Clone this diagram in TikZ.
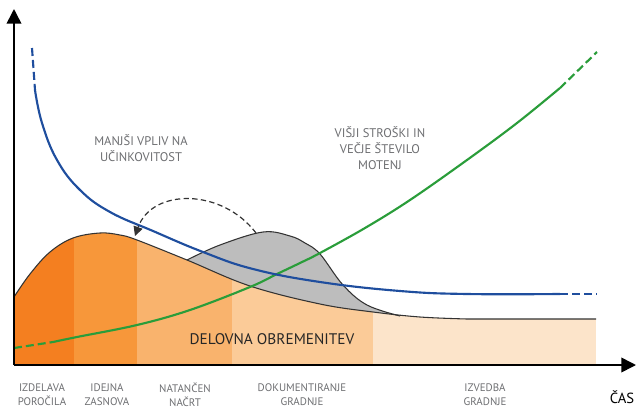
\documentclass[tikz,border=0pt]{standalone}
\usepackage{fontspec}
\setmainfont{PT Sans}
\usepackage{tikz}
\usetikzlibrary{positioning, arrows.meta}

\definecolor{phaseA}{HTML}{F47F20}
\definecolor{phaseB}{HTML}{F7973A}
\definecolor{phaseC}{HTML}{F9B36D}
\definecolor{phaseD}{HTML}{FBCB98}
\definecolor{phaseE}{HTML}{FCE4CA}
\definecolor{shifted}{HTML}{BDBDBD}
\definecolor{effblue}{HTML}{1F4E9E}
\definecolor{costgreen}{HTML}{2A9D3A}
\definecolor{notegray}{HTML}{6D6E71}

\begin{document}
\begin{tikzpicture}[x=0.75pt, y=-0.75pt]
			\tikzset{
				axis/.style={line width=1.2pt, -{Triangle[length=11pt, width=11pt]}},
				outline/.style={draw=black!80, line width=0.8pt},
				effcurve/.style={draw=effblue, line width=1.6pt},
				costcurve/.style={draw=costgreen, line width=1.6pt},
				trail/.style={dash pattern=on 6pt off 3pt},
				note/.style={text=notegray, font=\fontsize{9.4}{11.8}\selectfont, align=center},
				phase/.style={text=notegray, font=\fontsize{8.2}{10.5}\selectfont, align=center}
			}
			\useasboundingbox (0,0) rectangle (637,408);
			\coordinate (origin) at (14,365);
			\coordinate (ytip) at (14,9);
			\coordinate (xtip) at (636,365);
			% shifted workload (grey)
			\fill[shifted] plot[smooth, tension=0.6] coordinates {(187,260) (220,245) (263,232) (290,236) (305,243) (320,254) (343,285) (367,305) (400,316)} -- (400,365) -- (187,365) -- cycle;
			% workload area, split into phases
			\begin{scope}
				\clip (origin) -- plot[smooth, tension=0.6] coordinates {(14,297) (30,274) (50,252) (73,238) (100,233) (120,235) (137,240) (187,260) (250,286) (320,304) (373,312) (420,317) (467,319)} -- (596,319) -- (596,365) -- cycle;
				\fill[phaseA] (14,220) rectangle (74,365);
				\fill[phaseB] (74,220) rectangle (137,365);
				\fill[phaseC] (137,220) rectangle (232,365);
				\fill[phaseD] (232,220) rectangle (373,365);
				\fill[phaseE] (373,220) rectangle (596,365);
			\end{scope}
			\draw[outline] plot[smooth, tension=0.6] coordinates {(187,260) (220,245) (263,232) (290,236) (305,243) (320,254) (343,285) (367,305) (400,316)};
			\draw[outline] plot[smooth, tension=0.6] coordinates {(14,297) (30,274) (50,252) (73,238) (100,233) (120,235) (137,240) (187,260) (250,286) (320,304) (373,312) (420,317) (467,319)} -- (596,319);
			% costs
			\draw[costcurve, trail] (14,348) -- (53,342);
			\draw[costcurve] plot[smooth, tension=0.6] coordinates {(53,342) (77,337) (137,325) (190,310) (250,287) (277,274) (300,263) (320,253) (365,228) (410,200) (467,160) (517,123) (560,88)};
			\draw[costcurve, trail] (560,88) -- (597,52);
			% influence
			\draw[effcurve, trail] (32,48) -- (35,90);
			\draw[effcurve] plot[smooth, tension=0.7] coordinates {(35,90) (42,123) (57,160) (80,190) (110,212) (153,231) (203,252) (253,269) (320,282) (400,291) (467,294) (560,294)};
			\draw[effcurve, trail] (560,294) -- (597,294);
			% moving the work forward
			\coordinate (arcstart) at (256,233);
			\coordinate (arcend) at (135,236);
			\draw[black!80, line width=0.9pt, dash pattern=on 4pt off 2.5pt, -{Triangle[length=7pt, width=7pt]}] (arcstart) .. controls (222,188) and (152,188) .. (arcend);
			% axes
			\draw[axis] (origin) -- (ytip);
			\draw[axis] (origin) -- (xtip);
			% texts
			\node[note] (lessinfl) at (141,148) {MANJŠI VPLIV NA\\UČINKOVITOST};
			\node[note] (morecost) at (380,148) {VIŠJI STROŠKI IN\\VEČJE ŠTEVILO\\MOTENJ};
			\node[text=black!85, font=\fontsize{11.5}{13}\selectfont] (workload) at (272,339) {DELOVNA OBREMENITEV};
			\node[phase] (report) at (42,395) {IZDELAVA\\POROČILA};
			\node[phase] (concept) at (107,395) {IDEJNA\\ZASNOVA};
			\node[phase] (design) at (185,395) {NATANČEN\\NAČRT};
			\node[phase] (docs) at (302,395) {DOKUMENTIRANJE\\GRADNJE};
			\node[phase] (build) at (485,395) {IZVEDBA\\GRADNJE};
			\node[font=\fontsize{11}{13}\selectfont] (time) at (622,397) {ČAS};
		\end{tikzpicture}
\end{document}
